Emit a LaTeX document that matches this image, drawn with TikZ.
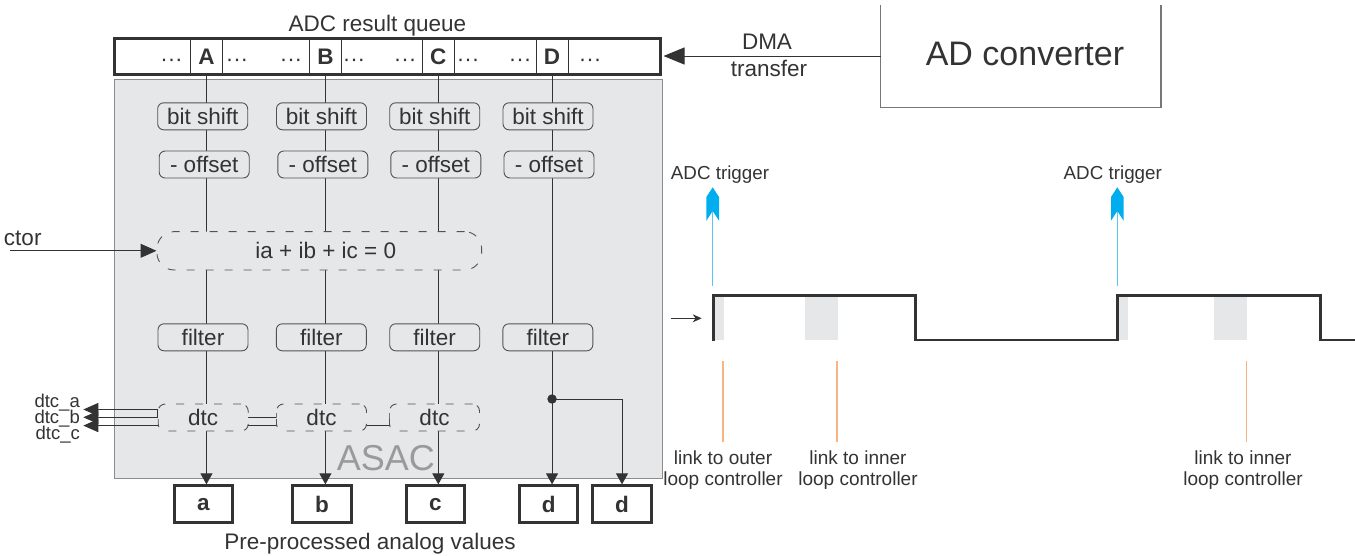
\documentclass[tikz,border=0pt]{standalone}
\usepackage{fontspec}
\setmainfont{Liberation Sans}
\usetikzlibrary{arrows.meta}
\pgfdeclarelayer{back}
\pgfdeclarelayer{mid}
\pgfsetlayers{back,mid,main}
\definecolor{ink}{HTML}{333333}
\definecolor{panel}{HTML}{E6E7E8}
\definecolor{panelborder}{HTML}{8C8C8C}
\definecolor{trig}{HTML}{00AEEF}
\definecolor{trigline}{HTML}{5BC5F2}
\definecolor{linkc}{HTML}{F6B482}
\definecolor{asacgray}{HTML}{9A9A9A}
\definecolor{adcgray}{HTML}{777777}
\newcommand\fsMain{\fontsize{22.5pt}{27pt}\selectfont}
\newcommand\fsBig{\fontsize{34pt}{40pt}\selectfont}
\newcommand\fsSmall{\fontsize{19pt}{21pt}\selectfont}
\newcommand\fsAsac{\fontsize{36pt}{42pt}\selectfont}
\newcommand\trighead[1]{\fill[trig] (#1,187.3) -- (#1+6.3,197) -- (#1+6.3,220.7) -- (#1,211) -- (#1-6.3,220.7) -- (#1-6.3,197) -- cycle;}
\begin{document}
\begin{tikzpicture}[x=1pt,y=-1pt,
  txt/.style={font=\fsMain, text=ink, inner sep=0pt},
  proc/.style={draw=ink!85, rounded corners=6pt, fill=panel, minimum width=90pt, minimum height=27pt, inner sep=0pt, font=\fsMain, text=ink, line width=0.9pt},
  dproc/.style={proc, dash pattern=on 8pt off 11pt, rounded corners=7pt},
  outbox/.style={draw=ink, line width=3pt, minimum width=58.3pt, minimum height=36.7pt, inner sep=0pt, font=\bfseries\fsMain, text=ink},
  cell/.style={minimum height=36.3pt, inner sep=0pt, font=\bfseries\fsMain, text=ink},
  qdots/.style={txt, anchor=base},
  col/.style={draw=ink, line width=1pt},
  colarrow/.style={col, -{Triangle[length=11pt,width=12pt]}},
  dtcarrow/.style={col, -{Triangle[length=15pt,width=13pt]}},
  linklbl/.style={font=\fsSmall, text=ink, align=center, inner sep=0pt},
  linkline/.style={draw=linkc, line width=1.5pt},
  trigarrow/.style={draw=trigline, line width=1.3pt}
]
\useasboundingbox (0,0) rectangle (1355,555);

% ---------- ADC result queue ----------
\node[txt, anchor=base] (title) at (377.5,31.7) {ADC result queue};
\node[draw=ink, line width=3pt, minimum width=545.7pt, minimum height=36.3pt, inner sep=0pt] (queue) at (387.65,56.35) {};
\node[cell, minimum width=31.5pt] (A) at (206.45,56.35) {A};
\node[cell, minimum width=32.2pt] (B) at (325.4,56.35) {B};
\node[cell, minimum width=32.2pt] (C) at (438.3,56.35) {C};
\node[cell, minimum width=31.5pt] (D) at (552.05,56.35) {D};
\foreach \n in {A,B,C,D}{
  \draw[ink, line width=1pt] (\n.north west) -- (\n.south west);
  \draw[ink, line width=1pt] (\n.north east) -- (\n.south east);
}
\node[qdots] (q1) at (171.5,66) {···};
\node[qdots] (q2) at (237,66) {···};
\node[qdots] (q3) at (291,66) {···};
\node[qdots] (q4) at (354,66) {···};
\node[qdots] (q5) at (405,66) {···};
\node[qdots] (q6) at (468,66) {···};
\node[qdots] (q7) at (520,66) {···};
\node[qdots] (q8) at (590,66) {···};

% ---------- ASAC panel ----------
\begin{pgfonlayer}{back}
\node[fill=panel, draw=panelborder, line width=1.2pt, minimum width=547.8pt, minimum height=399.4pt, inner sep=0pt] (asac) at (388.5,279) {};
\node[font=\fsAsac, text=asacgray, anchor=base, inner sep=0pt] (asaclbl) at (385.8,470.7) {ASAC};
\end{pgfonlayer}

\node[proc] (bs1) at (202.7,116.3) {bit shift};
\node[proc] (bs2) at (321.5,116.3) {bit shift};
\node[proc] (bs3) at (434.7,116.3) {bit shift};
\node[proc] (bs4) at (548,116.3) {bit shift};

\node[proc] (of1) at (204.2,164.5) {- offset};
\node[proc] (of2) at (322.8,164.5) {- offset};
\node[proc] (of3) at (435.8,164.5) {- offset};
\node[proc] (of4) at (549,164.5) {- offset};

\node[dproc, minimum width=324.7pt, minimum height=38.3pt, rounded corners=17pt] (sum) at (319.3,250.8) {\hspace*{13pt}ia + ib + ic = 0};

\node[proc] (fi1) at (203,337.3) {filter};
\node[proc] (fi2) at (321.3,337.3) {filter};
\node[proc] (fi3) at (434.7,337.3) {filter};
\node[proc] (fi4) at (547.8,337.3) {filter};

\node[dproc] (dt1) at (203.2,417.5) {dtc};
\node[dproc] (dt2) at (321.5,417.5) {dtc};
\node[dproc] (dt3) at (434.5,417.5) {dtc};

\node[outbox] (oa) at (203.3,504.2) {a};
\node[outbox] (ob) at (322,504.2) {b};
\node[outbox] (oc) at (435.3,504.2) {c};
\node[outbox] (od) at (548.8,504.2) {d};
\node[outbox] (oe) at (622,504.2) {d};

\node[txt, anchor=base] (pre) at (370,549) {Pre-processed analog values};

% ---------- column connectors ----------
\begin{pgfonlayer}{mid}
\draw[colarrow] (A.south) -- (A.south |- oa.north);
\draw[colarrow] (B.south) -- (B.south |- ob.north);
\draw[colarrow] (C.south) -- (C.south |- oc.north);
\draw[colarrow] (D.south) -- (D.south |- od.north);
\coordinate (br) at (552.05,399);
\draw[colarrow] (br) -- (br -| oe.north) -- (oe.north);
\coordinate (vin) at (10,250.8);
\draw[col, -{Triangle[length=16pt,width=14pt]}] (vin) -- (sum.west);
\coordinate (ta) at (83.3,409.5);
\coordinate (tb) at (83.3,417.3);
\coordinate (tc) at (83.3,425.6);
\draw[dtcarrow] (dt1.west |- 0,417.3) -- (dt1.west |- ta) -- (ta);
\draw[dtcarrow] (dt2.west |- 0,413.3) -- (dt2.west |- tb) -- (tb);
\draw[dtcarrow] (dt3.west |- 0,413.3) -- (dt3.west |- tc) -- (tc);
\end{pgfonlayer}
\fill[ink] (br) circle (4.7pt);

\node[txt, anchor=base east] (vlbl) at (41.7,245) {ctor};
\node[font=\fontsize{18.5pt}{20pt}\selectfont, text=ink, inner sep=0pt, anchor=base east] (la) at (80,407) {dtc\_a};
\node[font=\fontsize{18.5pt}{20pt}\selectfont, text=ink, inner sep=0pt, anchor=base east] (lb) at (80,423) {dtc\_b};
\node[font=\fontsize{18.5pt}{20pt}\selectfont, text=ink, inner sep=0pt, anchor=base east] (lc) at (80,439) {dtc\_c};

% ---------- AD converter ----------
\node[minimum width=280pt, minimum height=102.6pt, inner sep=0pt] (adc) at (1020.7,56) {};
\draw[adcgray, line width=1.3pt] (adc.north west) -- (adc.south west) -- (adc.south east) -- (adc.north east);
\node[font=\fsBig, text=ink, anchor=base, inner sep=0pt] (adct) at (1025,65) {AD converter};
\draw[col, -{Triangle[length=21pt,width=17pt]}, shorten >=1.5pt] (adc.west) -- (adc.west -| queue.east);
\node[txt, anchor=base] (dma1) at (767,49.3) {DMA};
\node[txt, anchor=base] (dma2) at (769,76) {transfer};

% ---------- timing ----------
\fill[panel] (713,296) rectangle (723.5,340);
\fill[panel] (805,296) rectangle (837.7,340);
\fill[panel] (1117,296) rectangle (1127.7,340);
\fill[panel] (1214,296) rectangle (1246.7,340);
\draw[ink, line width=2.8pt] (713.3,341.4) -- (713.3,295.7) -- (915.7,295.7) -- (915.7,340) -- (1117.3,340) -- (1117.3,295.7) -- (1320.7,295.7) -- (1320.7,340) -- (1356,340);
\coordinate (sa) at (670.7,318.3);
\coordinate (sb) at (701.7,318.3);
\draw[ink, line width=1pt, -{Stealth[length=9pt,width=8pt]}] (sa) -- (sb);

\coordinate (t1a) at (712.7,285.7);
\coordinate (t1b) at (712.7,208);
\draw[trigarrow] (t1a) -- (t1b);
\trighead{712.7}
\coordinate (t2a) at (1117.3,285.7);
\coordinate (t2b) at (1117.3,208);
\draw[trigarrow] (t2a) -- (t2b);
\trighead{1117.3}
\node[font=\fontsize{18.8pt}{21pt}\selectfont, text=ink, anchor=base, inner sep=0pt] (trl1) at (720,179.3) {ADC trigger};
\node[font=\fontsize{18.8pt}{21pt}\selectfont, text=ink, anchor=base, inner sep=0pt] (trl2) at (1112.8,179.3) {ADC trigger};

\coordinate (o1a) at (723,361); \coordinate (o1b) at (723,441.7);
\coordinate (o2a) at (837,361); \coordinate (o2b) at (837,441.7);
\coordinate (o3a) at (1246.4,361); \coordinate (o3b) at (1246.4,441.7);
\draw[linkline] (o1a) -- (o1b);
\draw[linkline] (o2a) -- (o2b);
\draw[linkline] (o3a) -- (o3b);
\node[linklbl] (lk1) at (723,470) {link to outer\\loop controller};
\node[linklbl] (lk2) at (858,470) {link to inner\\loop controller};
\node[linklbl] (lk3) at (1243,470) {link to inner\\loop controller};
\end{tikzpicture}
\end{document}
